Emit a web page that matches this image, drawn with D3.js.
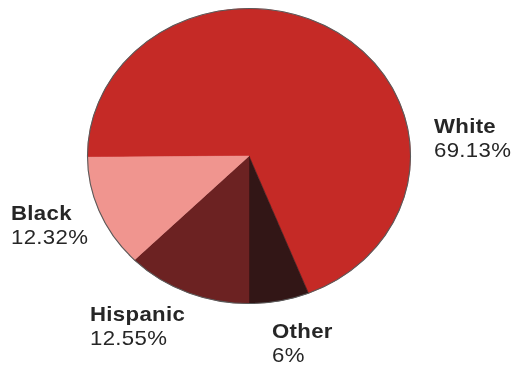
<!DOCTYPE html>
<html>
<head>
<meta charset="utf-8">
<script src="https://cdn.jsdelivr.net/npm/d3@7"></script>
<style>
  body { margin: 0; background: #fff; }
  text { font-family: "Liberation Sans", Arial, Helvetica, sans-serif; fill: #262626; }
</style>
</head>
<body>
<div id="chart"></div>
<script>
var categories = ["White", "Other", "Hispanic", "Black"];
var shares = [69.13, 6, 12.55, 12.32];
var shareLabels = ["69.13%", "6%", "12.55%", "12.32%"];
var colours = ["#c52926", "#331616", "#6c2121", "#f0958f"];

// label anchors (left edge, first baseline) – layout only
var labelPos = {
    "White": [434, 133],
    "Other": [272, 338],
    "Hispanic": [90, 321],
    "Black": [11, 220]
};

var width = 516;
var height = 368;
var cx = 249, cy = 156;
var ry = 147.5;
var stretch = 1.095; // picture is squashed horizontally

var svg = d3.select("#chart")
    .append("svg")
    .attr("width", width)
    .attr("height", height);

var defs = svg.append("defs");
defs.append("filter").attr("id", "soft")
    .append("feGaussianBlur").attr("stdDeviation", 0.35);

var total = d3.sum(shares);
var start = Math.PI - (shares[0] + shares[1]) / total * 2 * Math.PI;

var pie = d3.pie()
    .sort(null)
    .value(function (d) { return d; })
    .startAngle(start)
    .endAngle(start + 2 * Math.PI);

var arc = d3.arc()
    .innerRadius(0)
    .outerRadius(ry);

var g = svg.append("g")
    .attr("filter", "url(#soft)")
    .attr("transform", "translate(" + cx + "," + cy + ") scale(" + stretch + ",1)");

g.selectAll("path")
    .data(pie(shares))
    .enter().append("path")
    .attr("d", arc)
    .style("fill", function (d, i) { return colours[i]; })
    .style("stroke", function (d, i) { return colours[i]; })
    .style("stroke-width", 0.5);

// thin grey rim
g.append("circle")
    .attr("r", ry)
    .style("fill", "none")
    .style("stroke", "#5a5a5a")
    .style("stroke-width", 1.1)
    .attr("vector-effect", "non-scaling-stroke");

var labels = svg.append("g").attr("filter", "url(#soft)")
    .selectAll("g")
    .data(categories)
    .enter().append("g")
    .attr("transform", function (d) {
        return "translate(" + labelPos[d][0] + "," + labelPos[d][1] + ") scale(1.11,1)";
    });

labels.append("text")
    .style("font-size", "20px")
    .style("font-weight", "bold")
    .style("letter-spacing", "0.3px")
    .text(function (d) { return d; });

labels.append("text")
    .attr("y", 24)
    .style("font-size", "20px")
    .style("letter-spacing", "0.3px")
    .text(function (d, i) { return shareLabels[i]; });
</script>
</body>
</html>
